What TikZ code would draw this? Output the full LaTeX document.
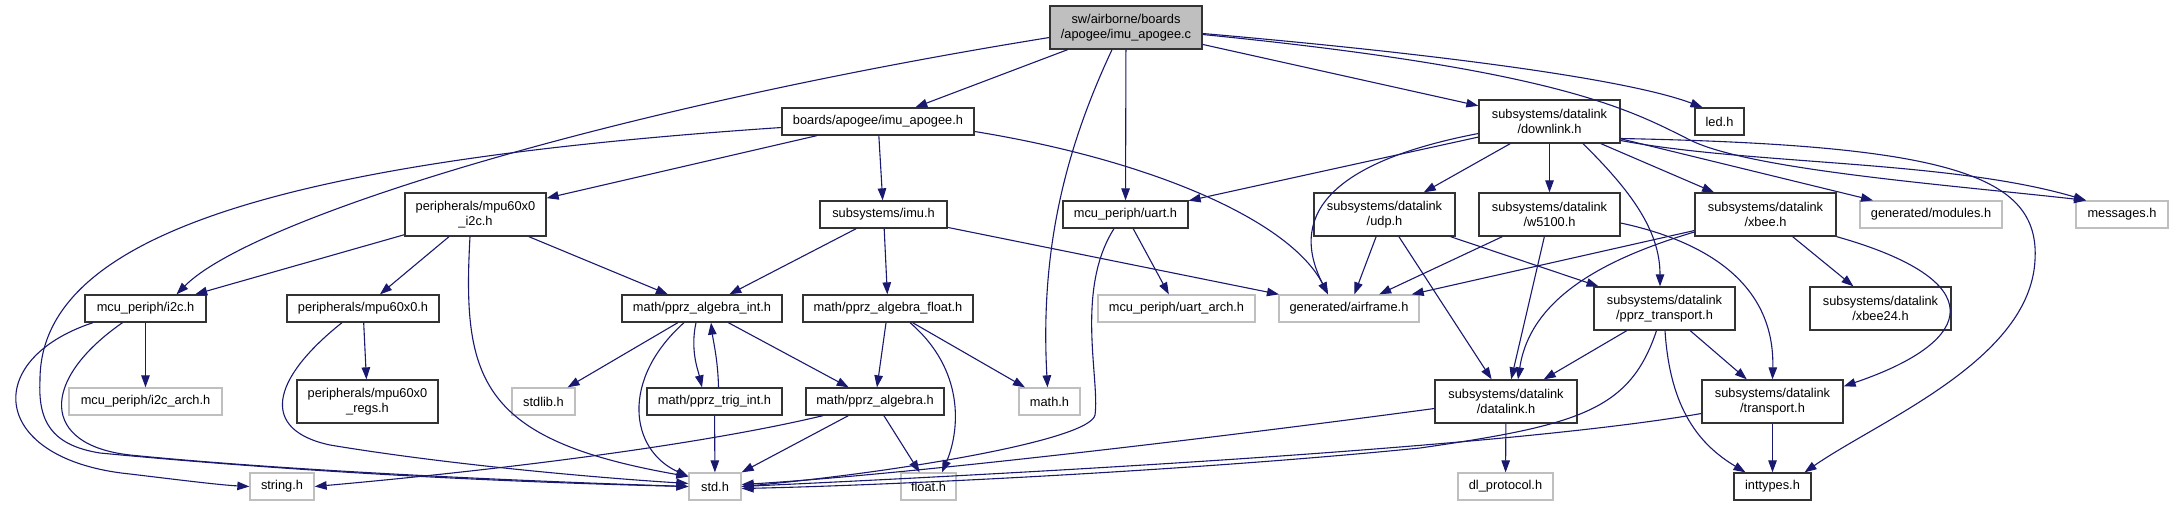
\documentclass[tikz,border=0pt]{standalone}
\usepackage{fontspec}
\setmainfont{Liberation Sans}
\usetikzlibrary{arrows.meta}
\definecolor{edgeblue}{HTML}{191970}
\definecolor{topfill}{HTML}{BFBFBF}
\definecolor{greyline}{HTML}{BFBFBF}
\tikzset{
  box/.style={draw=black!80, line width=1.3pt, fill=white, inner sep=0pt,
    minimum height=27pt, align=center, font=\fontsize{12.8pt}{15pt}\selectfont},
  dbox/.style={box, minimum height=43pt},
  gbox/.style={box, draw=greyline},
  topbox/.style={dbox, fill=topfill},
  e/.style={draw=edgeblue, line width=1.1pt, -{Triangle[length=12pt,width=8.5pt]}},
}
\begin{document}
\begin{tikzpicture}[x=1pt,y=-1pt]
\useasboundingbox (0,0) rectangle (2173,507);
% row 0
\node[topbox, minimum width=152pt] (top) at (1126,27.5) {sw/airborne/boards\\/apogee/imu\_apogee.c};
% row 1
\node[box, minimum width=192pt] (imuapH) at (878,121.5) {boards/apogee/imu\_apogee.h};
\node[dbox, minimum width=141pt] (downlink) at (1549.5,121.5) {subsystems/datalink\\/downlink.h};
\node[box, minimum width=49pt] (led) at (1719.5,121.5) {led.h};
% row 2
\node[dbox, minimum width=141pt] (mpui2c) at (475.5,214.5) {peripherals/mpu60x0\\\_i2c.h};
\node[box, minimum width=127pt] (imu) at (883.5,214.5) {subsystems/imu.h};
\node[box, minimum width=125pt] (uart) at (1125.5,214.5) {mcu\_periph/uart.h};
\node[dbox, minimum width=141pt] (udp) at (1384.5,214.5) {subsystems/datalink\\/udp.h};
\node[dbox, minimum width=141pt] (w5100) at (1549.5,214.5) {subsystems/datalink\\/w5100.h};
\node[dbox, minimum width=141pt] (xbee) at (1765.5,214.5) {subsystems/datalink\\/xbee.h};
\node[gbox, minimum width=142pt] (modules) at (1931,214.5) {generated/modules.h};
\node[gbox, minimum width=92pt] (messages) at (2122,214.5) {messages.h};
% row 3
\node[box, minimum width=121pt] (i2c) at (145.5,308.5) {mcu\_periph/i2c.h};
\node[box, minimum width=152pt] (mpu) at (363,308.5) {peripherals/mpu60x0.h};
\node[box, minimum width=160pt] (algint) at (702,308.5) {math/pprz\_algebra\_int.h};
\node[box, minimum width=170pt] (algfloat) at (888,308.5) {math/pprz\_algebra\_float.h};
\node[gbox, minimum width=157pt] (uartarch) at (1176.5,308.5) {mcu\_periph/uart\_arch.h};
\node[gbox, minimum width=140pt] (airframe) at (1349,308.5) {generated/airframe.h};
\node[dbox, minimum width=141pt] (pprztr) at (1664.5,308.5) {subsystems/datalink\\/pprz\_transport.h};
\node[dbox, minimum width=141pt] (xbee24) at (1880.5,308.5) {subsystems/datalink\\/xbee24.h};
% row 4
\node[gbox, minimum width=153pt] (i2carch) at (145.5,401.5) {mcu\_periph/i2c\_arch.h};
\node[dbox, minimum width=141pt] (regs) at (367.5,401.5) {peripherals/mpu60x0\\\_regs.h};
\node[gbox, minimum width=63pt] (stdlib) at (543.5,401.5) {stdlib.h};
\node[box, minimum width=135pt] (trig) at (714.5,401.5) {math/pprz\_trig\_int.h};
\node[box, minimum width=138pt] (alg) at (875,401.5) {math/pprz\_algebra.h};
\node[gbox, minimum width=61pt] (math) at (1049.5,401.5) {math.h};
\node[dbox, minimum width=142pt] (datalink) at (1506,401.5) {subsystems/datalink\\/datalink.h};
\node[dbox, minimum width=141pt] (transport) at (1772.5,401.5) {subsystems/datalink\\/transport.h};
% row 5
\node[gbox, minimum width=64pt] (string) at (282,486.5) {string.h};
\node[gbox, minimum width=52pt] (std) at (715,486.5) {std.h};
\node[gbox, minimum width=55pt] (float) at (928.5,486.5) {float.h};
\node[gbox, minimum width=95pt] (dlproto) at (1505.5,486.5) {dl\_protocol.h};
\node[box, minimum width=77pt] (inttypes) at (1772.5,486.5) {inttypes.h};

% ---- edges from imu_apogee.c
\draw[e] ([yshift=-10pt]top.west) .. controls (600,110) and (250,220) .. ([xshift=31pt]i2c.north);
\draw[e] (top) -- (imuapH);
\draw[e] ([xshift=-14pt]top.south) .. controls (1065,150) and (1040,250) .. ([xshift=-2pt]math.north);
\draw[e] (top) -- (uart);
\draw[e] (top) -- (downlink);
\draw[e] ([yshift=-6pt]top.east) .. controls (1450,55) and (1630,80) .. ([xshift=-17pt]led.north);
\draw[e] ([yshift=-7pt]top.east) .. controls (1560,70) and (1630,110) .. (1690,140)
   .. controls (1750,170) and (1950,185) .. ([xshift=-36pt]messages.north);
% ---- imu_apogee.h
\draw[e] (imuapH) -- (mpui2c);
\draw[e] (imuapH) -- (imu);
\draw[e] ([yshift=-10pt]imuapH.east) .. controls (1150,160) and (1290,220) .. ([xshift=-21pt]airframe.north);
\draw[e] ([yshift=-6pt]imuapH.west) .. controls (300,160) and (40,230) .. (40,380)
   .. controls (38,420) and (50,445) .. (100,453)
   .. controls (300,472) and (500,482) .. (std.west);
% ---- mpu60x0_i2c.h
\draw[e] (mpui2c) -- (i2c);
\draw[e] (mpui2c) -- (mpu);
\draw[e] ([xshift=-5.5pt]mpui2c.south) .. controls (462,380) and (480,440) .. ([yshift=10pt]std.west);
\draw[e] (mpui2c) -- (algint);
% ---- imu.h
\draw[e] (imu) -- (algint);
\draw[e] (imu) -- (algfloat);
\draw[e] (imu) -- (airframe);
% ---- uart.h
\draw[e] (uart) -- (uartarch);
\draw[e] ([xshift=-11.5pt]uart.south) .. controls (1075,290) and (1100,380) .. (1095,415)
   .. controls (1090,440) and (900,472) .. (std.east);
% ---- downlink.h
\draw[e] (downlink) -- (uart);
\draw[e] ([yshift=-12pt]downlink.west) .. controls (1340,160) and (1285,210) .. ([xshift=-21pt]airframe.north);
\draw[e] (downlink) -- (udp);
\draw[e] (downlink) -- (w5100);
\draw[e] (downlink) -- (xbee);
\draw[e] ([xshift=33.5pt]downlink.south) .. controls (1630,190) and (1660,230) .. ([xshift=-4.5pt]pprztr.north);
\draw[e] (downlink) -- (modules);
\draw[e] ([yshift=-19pt]downlink.east) .. controls (1750,165) and (1950,160) .. ([xshift=-36pt]messages.north);
\draw[e] ([yshift=-17pt]downlink.east) .. controls (1950,145) and (2040,175) .. (2035,260)
   .. controls (2030,360) and (1880,420) .. ([xshift=32pt]inttypes.north);
% ---- udp.h
\draw[e] (udp) -- (airframe);
\draw[e] (udp) -- (datalink);
\draw[e] (udp) -- (pprztr);
% ---- w5100.h
\draw[e] (w5100) -- (airframe);
\draw[e] (w5100) -- (datalink);
\draw[e] ([yshift=-8.5pt]w5100.east) .. controls (1700,240) and (1775,280) .. (transport.north);
% ---- xbee.h
\draw[e] (xbee) -- (airframe);
\draw[e] ([yshift=-17.5pt]xbee.west) .. controls (1600,260) and (1530,300) .. ([xshift=12pt]datalink.north);
\draw[e] (xbee) -- (xbee24);
\draw[e] (xbee.south east) .. controls (1990,280) and (1980,340) .. ([yshift=-7pt]transport.north east);
% ---- i2c.h
\draw[e] (i2c) -- (i2carch);
\draw[e] ([xshift=-52.5pt]i2c.south) .. controls (-20,360) and (-10,460) .. (130,474)
   .. controls (180,480) and (220,485) .. (string.west);
\draw[e] ([xshift=-23pt]i2c.south) .. controls (40,380) and (40,445) .. (130,455)
   .. controls (300,472) and (550,482) .. (std.west);
% ---- mpu60x0.h
\draw[e] (mpu) -- (regs);
\draw[e] ([xshift=-21pt]mpu.south) .. controls (270,380) and (260,430) .. (330,445)
   .. controls (450,465) and (600,478) .. ([yshift=3pt]std.west);
% ---- pprz_algebra_int.h
\draw[e] (algint) -- (stdlib);
\draw[e] ([xshift=-6pt]algint.south) .. controls (690,350) and (698,370) .. ([xshift=-12.5pt]trig.north);
\draw[e] ([xshift=4pt]trig.north) .. controls (718,360) and (713,340) .. ([xshift=9pt]algint.south);
\draw[e] (algint) -- (alg);
\draw[e] ([xshift=-18pt]algint.south) .. controls (620,380) and (630,450) .. ([yshift=10pt]std.west);
\draw[e] (trig) -- (std);
% ---- pprz_algebra_float.h
\draw[e] (algfloat) -- (alg);
\draw[e] ([xshift=22pt]algfloat.south) .. controls (965,370) and (960,430) .. ([xshift=13.5pt]float.north);
\draw[e] (algfloat) -- (math);
% ---- pprz_algebra.h
\draw[e] ([xshift=-52pt]alg.south) .. controls (700,445) and (500,470) .. (string.east);
\draw[e] (alg) -- (std);
\draw[e] (alg) -- (float);
% ---- pprz_transport.h
\draw[e] (pprztr) -- (datalink);
\draw[e] (pprztr) -- (transport);
\draw[e] ([xshift=0.5pt]pprztr.south) .. controls (1670,410) and (1700,445) .. ([xshift=-27pt]inttypes.north);
\draw[e] ([xshift=-8pt]pprztr.south) .. controls (1630,410) and (1580,425) .. (1420,448)
   .. controls (1200,470) and (900,485) .. ([yshift=-2pt]std.east);
% ---- datalink.h
\draw[e] (datalink) -- (dlproto);
\draw[e] ([yshift=-7pt]datalink.west) .. controls (1200,440) and (900,475) .. ([yshift=2pt]std.east);
% ---- transport.h
\draw[e] (transport) -- (inttypes);
\draw[e] ([yshift=-12pt]transport.west) .. controls (1550,440) and (1200,465) .. (std.east);
\end{tikzpicture}
\end{document}
